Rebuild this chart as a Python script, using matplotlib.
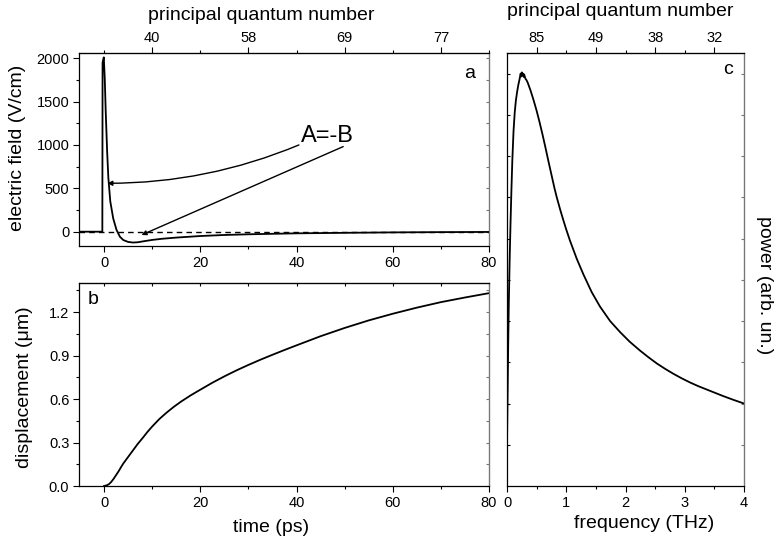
import matplotlib
matplotlib.use("Agg")
import matplotlib.pyplot as plt
from matplotlib.ticker import MultipleLocator, FormatStrFormatter

plt.rcParams['font.family'] = ['Liberation Sans', 'DejaVu Sans']

# panel a: electric field of the pulse
t_a = [-5.2, -0.35, -0.3, -0.05, 0.15, 0.35, 0.65, 0.9, 1.3, 1.9, 2.6, 3.3, 4.0, 5.0, 6.0,
       7.0, 8.5, 10, 12, 15, 20, 25, 30, 40, 50, 60, 70, 80]
E_a = [0, 0, 1950, 2010, 1770, 1390, 920, 620, 350, 155, 20, -58, -96, -118, -125,
       -122, -108, -95, -82, -68, -50, -38, -30, -19, -13, -8, -5, -3]

# panel b: displacement
t_b = [0, 0.5, 1, 1.5, 2, 2.5, 3, 3.5, 4, 5, 6, 7, 8, 9, 10, 11.5, 13, 14.5, 16, 18, 20,
       22.5, 25, 27.5, 30, 32.5, 35, 37.5, 40, 45, 50, 55, 60, 65, 70, 75, 80]
d_b = [0, 0.004, 0.012, 0.028, 0.05, 0.075, 0.1, 0.128, 0.155, 0.2, 0.245, 0.29, 0.33, 0.372,
       0.41, 0.462, 0.506, 0.546, 0.582, 0.625, 0.664, 0.712, 0.756, 0.797, 0.835, 0.871, 0.905,
       0.938, 0.97, 1.033, 1.09, 1.142, 1.188, 1.23, 1.268, 1.30, 1.33]

# panel c: power spectrum
f_c = [0.0, 0.01, 0.02, 0.03, 0.045, 0.06, 0.075, 0.09, 0.11, 0.13, 0.15, 0.17, 0.19, 0.21,
       0.23, 0.24, 0.25, 0.26, 0.27, 0.28, 0.29, 0.31, 0.33, 0.35, 0.40, 0.45, 0.50, 0.55,
       0.60, 0.65, 0.70, 0.75, 0.80, 0.838, 0.90, 0.95, 1.0, 1.063, 1.18, 1.29, 1.43, 1.57,
       1.74, 1.91, 2.07, 2.24, 2.38, 2.53, 2.67, 2.81, 2.95, 3.09, 3.23, 3.37, 3.51, 3.65,
       3.82, 4.0]
p_c = [0.10, 0.22, 0.34, 0.44, 0.55, 0.64, 0.72, 0.79, 0.86, 0.905, 0.935, 0.955, 0.972, 0.985,
       1.0, 0.993, 1.003, 0.996, 1.0, 0.992, 0.998, 0.988, 0.984, 0.978, 0.958, 0.935, 0.91, 0.882,
       0.852, 0.82, 0.787, 0.755, 0.723, 0.701, 0.669, 0.645, 0.622, 0.595, 0.55, 0.513, 0.47, 0.435,
       0.40, 0.373, 0.35, 0.329, 0.313, 0.297, 0.284, 0.272, 0.261, 0.251, 0.242, 0.234, 0.226, 0.218,
       0.209, 0.200]

# principal quantum number labels (top axes)
n_pos_a = [10, 30, 50, 70]
n_lab_a = ['40', '58', '69', '77']
n_pos_c = [0.5, 1.5, 2.5, 3.5]
n_lab_c = ['85', '49', '38', '32']

W, H = 776, 543
fig = plt.figure(figsize=(W / 100, H / 100), dpi=100)


def box(l, t, r, b):
    return [l / W, 1 - b / H, (r - l) / W, (b - t) / H]


tick_fs = 10.5
lab_fs = 14
grey = '#777777'

ax_a = fig.add_axes(box(79, 53, 489, 246))
ax_b = fig.add_axes(box(79, 283, 489, 486))
ax_c = fig.add_axes(box(507, 53, 744, 486))

for ax in (ax_a, ax_b, ax_c):
    for s in ax.spines.values():
        s.set_linewidth(0.9)
    ax.spines['right'].set_color(grey)
    ax.tick_params(which='major', length=4, width=0.8, labelsize=tick_fs, pad=3)
    ax.tick_params(which='minor', length=2.5, width=0.8)

# ---- panel a
ax_a.axhline(0, color='k', lw=1, ls=(0, (4, 3)))
ax_a.plot(t_a, E_a, color='k', lw=1.3)
ax_a.set_xlim(-5.2, 80)
ax_a.set_ylim(-165, 2060)
ax_a.xaxis.set_major_locator(MultipleLocator(20))
ax_a.xaxis.set_minor_locator(MultipleLocator(10))
ax_a.yaxis.set_major_locator(MultipleLocator(500))
ax_a.yaxis.set_minor_locator(MultipleLocator(250))
ax_a.tick_params(which='both', direction='out')

top_a = ax_a.secondary_xaxis('top')
top_a.set_xticks(n_pos_a, labels=n_lab_a)
top_a.set_xticks([0, 20, 40, 60, 80], minor=True)
top_a.tick_params(which='major', direction='out', length=4, width=0.8, labelsize=tick_fs, pad=2)
top_a.tick_params(which='minor', direction='out', length=2.5, width=0.8)

right_a = ax_a.secondary_yaxis('right')
right_a.yaxis.set_major_locator(MultipleLocator(500))
right_a.yaxis.set_minor_locator(MultipleLocator(250))
right_a.tick_params(which='both', direction='in', labelright=False, length=2.5, width=0.8, color=grey)
right_a.spines['right'].set_color(grey)

ax_a.text(40.9, 1104, 'A=-B', fontsize=17, ha='left', va='center')
ax_a.annotate('', xy=(0.7, 558), xytext=(40.5, 1000),
              arrowprops=dict(arrowstyle='-|>', color='k', lw=1, mutation_scale=7,
                              shrinkA=0, shrinkB=0, connectionstyle='arc3,rad=-0.1'))
ax_a.annotate('', xy=(7.8, -38), xytext=(49.7, 981),
              arrowprops=dict(arrowstyle='-|>', color='k', lw=1, mutation_scale=7,
                              shrinkA=0, shrinkB=0))

# ---- panel b
ax_b.plot(t_b, d_b, color='k', lw=1.3)
ax_b.set_xlim(-5.2, 80)
ax_b.set_ylim(0, 1.4)
ax_b.xaxis.set_major_locator(MultipleLocator(20))
ax_b.xaxis.set_minor_locator(MultipleLocator(10))
ax_b.yaxis.set_major_locator(MultipleLocator(0.3))
ax_b.yaxis.set_minor_locator(MultipleLocator(0.15))
ax_b.yaxis.set_major_formatter(FormatStrFormatter('%.1f'))
ax_b.tick_params(which='both', direction='out')

top_b = ax_b.secondary_xaxis('top')
top_b.xaxis.set_major_locator(MultipleLocator(20))
top_b.xaxis.set_minor_locator(MultipleLocator(10))
top_b.tick_params(which='both', direction='in', labeltop=False, length=2.5, width=0.8)

right_b = ax_b.secondary_yaxis('right')
right_b.yaxis.set_major_locator(MultipleLocator(0.3))
right_b.yaxis.set_minor_locator(MultipleLocator(0.15))
right_b.tick_params(which='both', direction='in', labelright=False, length=2.5, width=0.8, color=grey)
right_b.spines['right'].set_color(grey)

# ---- panel c
ax_c.plot(f_c, p_c, color='k', lw=1.3)
ax_c.set_xlim(0, 4)
ax_c.set_ylim(0, 1.05)
ax_c.xaxis.set_major_locator(MultipleLocator(1))
ax_c.xaxis.set_minor_locator(MultipleLocator(0.5))
ax_c.set_yticks([0.1 * i for i in range(1, 11)])
ax_c.tick_params(axis='x', which='both', direction='out')
ax_c.tick_params(axis='y', which='both', direction='in', labelleft=False, length=2.5)

top_c = ax_c.secondary_xaxis('top')
top_c.set_xticks(n_pos_c, labels=n_lab_c)
top_c.set_xticks([1, 2, 3], minor=True)
top_c.tick_params(which='major', direction='out', length=4, width=0.8, labelsize=tick_fs, pad=2)
top_c.tick_params(which='minor', direction='out', length=2.5, width=0.8)

right_c = ax_c.secondary_yaxis('right')
right_c.set_yticks([0.1 * i for i in range(1, 11)])
right_c.tick_params(which='both', direction='in', labelright=False, length=2.5, width=0.8, color=grey)
right_c.spines['right'].set_color(grey)

# ---- labels


def ftext(x, y, s, **kw):
    fig.text(x / W, 1 - y / H, s, ha='center', va='center', fontsize=lab_fs, **kw)


ftext(261, 15, 'principal quantum number')
ftext(620, 12, 'principal quantum number')
ftext(18, 148, 'electric field (V/cm)', rotation=90)
ftext(25, 387, 'displacement (\u03bcm)', rotation=90)
ftext(271, 527, 'time (ps)')
ftext(644, 524, 'frequency (THz)')
ftext(765, 285, 'power (arb. un.)', rotation=270)
ftext(470, 74, 'a')
ftext(93, 300, 'b')
ftext(728, 70, 'c')

fig.savefig('out.png', dpi=100)
